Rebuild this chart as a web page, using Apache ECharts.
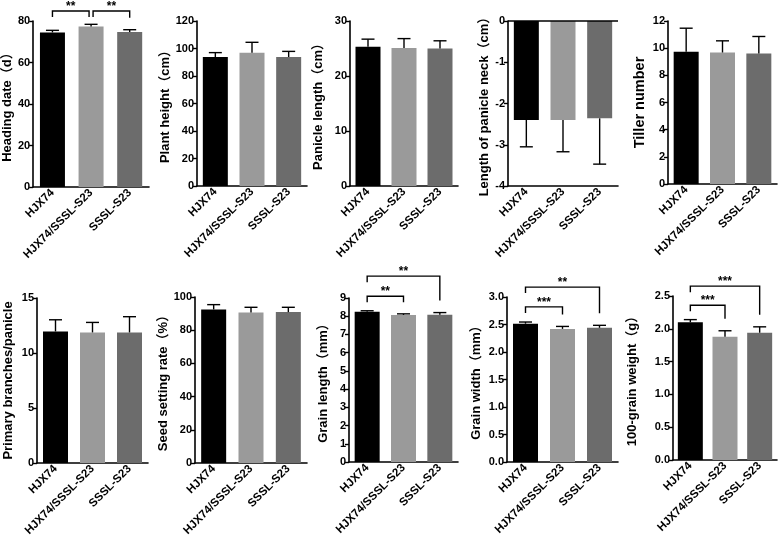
<!DOCTYPE html>
<html>
<head>
<meta charset="utf-8">
<script src="https://cdn.jsdelivr.net/npm/echarts@6/dist/echarts.min.js"></script>
<style>
  html, body { margin: 0; padding: 0; background: #fff; }
  #chart { width: 778px; height: 547px; }
</style>
</head>
<body>
<div id="chart"></div>
<script>
// lines (groups) compared in every panel
const groups = ["HJX74", "HJX74/SSSL-S23", "SSSL-S23"];
const barColors = ["#000000", "#9a9a9a", "#6c6c6c"];

// means and SD
const headingDate = [74.5, 77.3, 74.7];
const headingDateErr = [1.0, 1.1, 1.1];
const plantHeight = [93.8, 97.0, 93.8];
const plantHeightErr = [3.2, 7.5, 4.1];
const panicleLength = [25.3, 25.1, 25.0];
const panicleLengthErr = [1.4, 1.7, 1.4];
const panicleNeck = [-2.40, -2.40, -2.36];
const panicleNeckErr = [0.65, 0.77, 1.11];
const tillerNumber = [9.73, 9.68, 9.6];
const tillerNumberErr = [1.74, 0.86, 1.26];
const primaryBranches = [11.96, 11.87, 11.87];
const primaryBranchesErr = [1.06, 0.91, 1.43];
const seedSetting = [92.5, 90.7, 90.9];
const seedSettingErr = [2.9, 3.1, 2.9];
const grainLength = [8.25, 8.07, 8.08];
const grainLengthErr = [0.05, 0.06, 0.12];
const grainWidth = [2.515, 2.42, 2.44];
const grainWidthErr = [0.03, 0.045, 0.045];
const grainWeight = [2.10, 1.88, 1.94];
const grainWeightErr = [0.04, 0.09, 0.09];

// significance brackets: [from, to, level (axis units), stars]
const headingSig = [[0, 1, 84.8, "**"], [1, 2, 84.8, "**"]];
const grainLengthSig = [[0, 1, 9.1, "**"], [0, 2, 10.2, "**"]];
const grainWidthSig = [[0, 1, 2.82, "***"], [0, 2, 3.18, "**"]];
const grainWeightSig = [[0, 1, 2.36, "***"], [0, 2, 2.65, "***"]];

const FONT = "'Liberation Sans', Arial, 'Noto Sans CJK SC', sans-serif";

// box = [axis x, axis end x, top y, bottom y]
const panels = [
  { title: "Heading date（d）", values: headingDate, errors: headingDateErr, min: 0, max: 80, interval: 20, sig: headingSig, box: [33, 149, 21, 187], gap: 19 },
  { title: "Plant height（cm）", values: plantHeight, errors: plantHeightErr, min: 0, max: 120, interval: 20, box: [197, 307, 21, 186], gap: 21 },
  { title: "Panicle length（cm）", values: panicleLength, errors: panicleLengthErr, min: 0, max: 30, interval: 10, box: [350, 458, 21, 186], gap: 25 },
  { title: "Length of panicle neck（cm）", values: panicleNeck, errors: panicleNeckErr, min: -4, max: 0, interval: 1, box: [508, 618, 21, 186], gap: 16 },
  { title: "Tiller number", values: tillerNumber, errors: tillerNumberErr, min: 0, max: 12, interval: 2, box: [668, 777, 21, 184], gap: 21, size: 14.5 },
  { title: "Primary branches/panicle", values: primaryBranches, errors: primaryBranchesErr, min: 0, max: 15, interval: 5, box: [37, 148, 298, 463], gap: 22 },
  { title: "Seed setting rate（%）", values: seedSetting, errors: seedSettingErr, min: 0, max: 100, interval: 20, box: [195, 307, 297, 463], gap: 20 },
  { title: "Grain length（mm）", values: grainLength, errors: grainLengthErr, min: 0, max: 9, interval: 1, sig: grainLengthSig, box: [349, 458, 298, 462], gap: 19 },
  { title: "Grain width（mm）", values: grainWidth, errors: grainWidthErr, min: 0, max: 3, interval: 0.5, sig: grainWidthSig, box: [507, 618, 297, 462], gap: 24, dec: 1 },
  { title: "100-grain weight（g）", values: grainWeight, errors: grainWeightErr, min: 0, max: 2.5, interval: 0.5, sig: grainWeightSig, box: [673, 777, 296, 460], gap: 34, dec: 1 }
];

const chart = echarts.init(document.getElementById("chart"), null, { renderer: "canvas" });

const grid = [], xAxis = [], yAxis = [], series = [];

panels.forEach((p, k) => {
  const [x0, x1, y0, y1] = p.box;
  const negative = p.max <= 0;
  grid.push({ left: x0, top: y0, width: x1 - x0, height: y1 - y0, containLabel: false });

  xAxis.push({
    type: "category",
    gridIndex: k,
    data: groups,
    axisLine: { onZero: false, lineStyle: { color: "#000", width: 1.6 } },
    axisTick: { alignWithLabel: true, length: 4, lineStyle: { color: "#000", width: 1.4 } },
    axisLabel: { rotate: 45, interval: 0, margin: 4, color: "#000", fontWeight: "bold", fontSize: 11.5, fontFamily: FONT },
    splitLine: { show: false }
  });

  yAxis.push({
    type: "value",
    gridIndex: k,
    min: p.min,
    max: p.max,
    interval: p.interval,
    name: p.title,
    nameLocation: "middle",
    nameGap: p.gap,
    nameTextStyle: { color: "#000", fontWeight: "bold", fontSize: p.size || 13, fontFamily: FONT },
    axisLine: { show: true, lineStyle: { color: "#000", width: 1.6 } },
    axisTick: { show: true, length: 4, lineStyle: { color: "#000", width: 1.4 } },
    axisLabel: {
      margin: 3, color: "#000", fontWeight: "bold", fontSize: 11, fontFamily: FONT,
      formatter: (v) => (p.dec ? v.toFixed(p.dec) : String(v))
    },
    splitLine: { show: false }
  });

  series.push({
    type: "bar",
    xAxisIndex: k,
    yAxisIndex: k,
    barWidth: 25,
    silent: true,
    data: p.values.map((v, i) => ({ value: v, itemStyle: { color: barColors[i] } })),
    markLine: negative ? {
      silent: true,
      symbol: "none",
      label: { show: false },
      lineStyle: { color: "#000", width: 1.6, type: "solid" },
      data: [{ yAxis: 0 }]
    } : undefined
  });

  // one-sided error bars
  series.push({
    type: "custom",
    xAxisIndex: k,
    yAxisIndex: k,
    silent: true,
    clip: false,
    z: 5,
    data: p.values.map((v, i) => [i, v, p.errors[i]]),
    renderItem: (params, api) => {
      const i = api.value(0), v = api.value(1), e = api.value(2);
      const dir = v < 0 ? -1 : 1;
      const a = api.coord([i, v]);
      const b = api.coord([i, v + dir * e]);
      const style = { stroke: "#000", lineWidth: 1.4 };
      return {
        type: "group",
        children: [
          { type: "line", shape: { x1: a[0], y1: a[1], x2: b[0], y2: b[1] }, style },
          { type: "line", shape: { x1: b[0] - 6.5, y1: b[1], x2: b[0] + 6.5, y2: b[1] }, style }
        ]
      };
    }
  });

  if (p.sig) {
    series.push({
      type: "custom",
      xAxisIndex: k,
      yAxisIndex: k,
      silent: true,
      clip: false,
      z: 6,
      data: p.sig.map((s) => [s[0], s[1], s[2]]),
      renderItem: (params, api) => {
        const s = p.sig[params.dataIndex];
        const i = s[0], j = s[1], level = s[2];
        const a = api.coord([i, level]);
        const b = api.coord([j, level]);
        const shared = p.sig.length > 1 && p.sig[0][1] === p.sig[1][0];
        const xa = a[0] + (shared && params.dataIndex === 1 ? 2 : 0);
        const xb = b[0] - (shared && params.dataIndex === 0 ? 2 : 0);
        const topJ = api.coord([j, p.values[j] + p.errors[j]])[1];
        const dropR = Math.max(a[1] + 6, topJ - 12);
        return {
          type: "group",
          children: [
            {
              type: "polyline",
              shape: { points: [[xa, a[1] + 6], [xa, a[1]], [xb, a[1]], [xb, dropR]] },
              style: { stroke: "#000", lineWidth: 1.4, fill: null }
            },
            {
              type: "text",
              style: {
                text: s[3], x: (xa + xb) / 2, y: a[1] - 4,
                align: "center", verticalAlign: "middle",
                font: "bold 12px " + FONT, fill: "#000"
              }
            }
          ]
        };
      }
    });
  }
});

chart.setOption({
  animation: false,
  backgroundColor: "#fff",
  grid,
  xAxis,
  yAxis,
  series
});
</script>
</body>
</html>
